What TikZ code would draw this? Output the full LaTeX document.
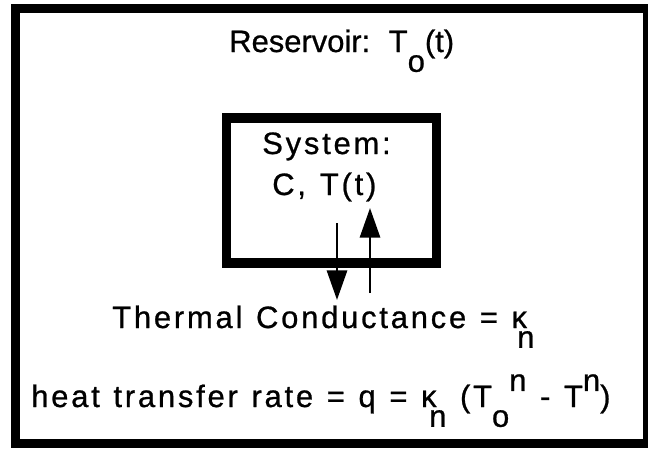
\documentclass[tikz,border=0pt]{standalone}
\usepackage{fontspec}
\setmainfont[LetterSpace=9,WordSpace=1.2,FakeBold=0.8]{Liberation Sans}
\usetikzlibrary{arrows.meta}
\newcommand{\lowr}[1]{\raisebox{-0.64em}{#1}}
\newcommand{\highr}[1]{\raisebox{0.52em}{#1}}
\begin{document}
\begin{tikzpicture}[x=0.025cm, y=-0.025cm,
  every node/.style={font=\fontsize{22}{26}\selectfont, inner sep=0pt},
  frame/.style={draw=black, line width=6.4pt},
  sysbox/.style={draw=black, line width=6.8pt, minimum width=5.25cm,
                 minimum height=3.625cm},
  txt/.style={anchor=base west},
  tight/.style={font=\fontsize{22}{26}\selectfont\addfontfeatures{LetterSpace=0}},
  flow/.style={draw=black, line width=2.1pt,
               -{Triangle[length=0.74cm, width=0.5cm]}},
]
\useasboundingbox (0,0) rectangle (648,448);
\draw[frame] (15,8) rectangle (647,443);
\node[sysbox] (sys) at (331.5,190.5) {};
\node[txt,tight] (res) at (229,52) {Reservoir:\hspace{0.6em}T\lowr{o}(t)};
\node[txt] (name) at (262,154) {System:};
\node[txt] (vars) at (272,195) {C,\hspace{0.45em}T(t)};
\node[txt] (cond) at (112,328) {Thermal Conductance = κ\kern-0.32em\lowr{n}};
\node[txt] (rate) at (31,407)
  {heat transfer rate = q = κ\kern-0.24em\lowr{n} (T\lowr{o}\highr{n} - T\highr{n})};
%% heat goes both ways across the wall
\coordinate (outA) at (337,223);
\coordinate (outB) at (337,300);
\coordinate (inA)  at (370,293);
\coordinate (inB)  at (370,208);
\draw[flow] (outA) -- (outB);
\draw[flow] (inA) -- (inB);
\end{tikzpicture}
\end{document}
